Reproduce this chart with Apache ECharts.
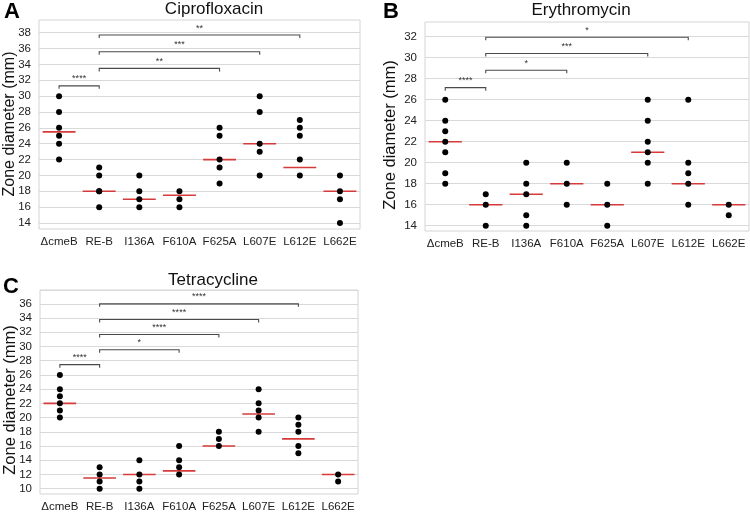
<!DOCTYPE html>
<html><head><meta charset="utf-8">
<script src="https://cdn.jsdelivr.net/npm/echarts@6/dist/echarts.min.js"></script>
<style>html,body{margin:0;padding:0;background:#fff}#c{width:750px;height:513px}</style>
</head><body><div id="c"></div>
<script>
const categories = ['ΔcmeB','RE-B','I136A','F610A','F625A','L607E','L612E','L662E'];

// Ciprofloxacin
const ciproValues = [[30,28,26,25,24,22],[21,20,18,18,16],[20,18,17,16],[18,17,16],[26,25,22,21,19],[30,28,24,23,20],[27,26,25,22,20],[20,18,17,14]];
const ciproMedians = [25.5,18,17,17.5,22,24,21,18];
const ciproBrackets = [[0,1,31.3],[1,4,33.5],[1,5,35.6],[1,6,37.7]];
const ciproStars = ['****','**','***','**'];
const ciproTicks = [14,16,18,20,22,24,26,28,30,32,34,36,38];

// Erythromycin
const eryValues = [[26,24,23,22,21,19,18],[17,16,14],[20,18,17,15,14],[20,18,16],[18,16,14],[26,24,22,21,20,18],[26,20,19,18,16],[16,15]];
const eryMedians = [22,16,17,18,16,21,18,16];
const eryBrackets = [[0,1,27.15],[1,3,28.8],[1,5,30.4],[1,6,31.95]];
const eryStars = ['****','*','***','*'];
const eryTicks = [14,16,18,20,22,24,26,28,30,32];

// Tetracycline
const tetValues = [[26,24,23,22,21,20],[13,12,11,10],[14,12,11,10],[16,14,13,12],[18,17,16],[24,22,21,20,18],[20,19,18,16,15],[12,11]];
const tetMedians = [22,11.5,12,12.5,16,20.5,17,12];
const tetBrackets = [[0,1,27.45],[1,3,29.55],[1,4,31.7],[1,5,33.8],[1,6,36.0]];
const tetStars = ['****','*','****','****','****'];
const tetTicks = [10,12,14,16,18,20,22,24,26,28,30,32,34,36];

const panels = [
  {values: ciproValues, medians: ciproMedians, brackets: ciproBrackets, stars: ciproStars, ticks: ciproTicks,
   grid: {left: 39, top: 20, width: 321, height: 209}, min: 13.25, max: 39.6, step: 0.25},
  {values: eryValues, medians: eryMedians, brackets: eryBrackets, stars: eryStars, ticks: eryTicks,
   grid: {left: 425, top: 22, width: 324, height: 209}, min: 13.5, max: 33.4, step: 0.5},
  {values: tetValues, medians: tetMedians, brackets: tetBrackets, stars: tetStars, ticks: tetTicks,
   grid: {left: 40, top: 290, width: 318, height: 207}, min: 9.25, max: 37.95, step: 0.25}
];

const F = 'Liberation Sans, Arial, sans-serif';
const grids = [], xAxes = [], yAxes = [], series = [];
panels.forEach((p, gi) => {
  grids.push(Object.assign({show: true, borderColor: '#d4d4d4', borderWidth: 1, backgroundColor: '#fff'}, p.grid));
  xAxes.push({type: 'category', gridIndex: gi, data: categories, boundaryGap: true,
    axisLine: {show: false}, axisTick: {show: false}, splitLine: {show: false},
    axisLabel: {fontSize: 11.5, color: '#222', margin: 7, fontFamily: F, interval: 0}});
  const n = Math.round(2 / p.step);
  const colors = [];
  for (let k = 0; k < n; k++) {
    const v = p.min + k * p.step;
    colors.push(Math.abs(v / 2 - Math.round(v / 2)) < 1e-6 ? '#d9d9d9' : 'rgba(0,0,0,0)');
  }
  yAxes.push({type: 'value', gridIndex: gi, min: p.min, max: p.max, interval: p.step,
    axisLine: {show: false}, axisTick: {show: false},
    splitLine: {show: true, lineStyle: {color: colors, width: 1}},
    axisLabel: {fontSize: 11.5, color: '#222', margin: 8, fontFamily: F,
      showMinLabel: true, showMaxLabel: true,
      formatter: (v) => { const r = Math.round(v * 100) / 100; return p.ticks.includes(r) ? String(r) : ''; }}});
  series.push({type: 'custom', xAxisIndex: gi, yAxisIndex: gi, z: 2,
    data: p.medians.map((m, i) => [i, m]),
    renderItem: (params, api) => {
      const c = api.coord([api.value(0), api.value(1)]);
      const w = api.size([1, 0])[0] * 0.82;
      return {type: 'line', shape: {x1: c[0] - w / 2, y1: c[1], x2: c[0] + w / 2, y2: c[1]},
        style: {stroke: '#d63a3a', lineWidth: 1.6}};
    }});
  const pts = [];
  p.values.forEach((arr, i) => arr.forEach(v => pts.push([i, v])));
  series.push({type: 'scatter', xAxisIndex: gi, yAxisIndex: gi, z: 3, data: pts,
    symbol: 'circle', symbolSize: 6, itemStyle: {color: '#000', opacity: 1}, silent: true});
  series.push({type: 'custom', xAxisIndex: gi, yAxisIndex: gi, z: 4,
    data: p.brackets, encode: {x: [0, 1], y: 2},
    renderItem: (params, api) => {
      const y = api.value(2);
      const a = api.coord([api.value(0), y]);
      const b = api.coord([api.value(1), y]);
      return {type: 'group', children: [
        {type: 'polyline', shape: {points: [[a[0], a[1] + 3], [a[0], a[1]], [b[0], b[1]], [b[0], b[1] + 3]]},
          style: {stroke: '#4a4a4a', lineWidth: 1.1, fill: null}},
        {type: 'text', x: (a[0] + b[0]) / 2, y: a[1] - 7,
          style: {text: p.stars[params.dataIndex], fontSize: 9, fill: '#333', align: 'center', verticalAlign: 'middle',
            textAlign: 'center', textVerticalAlign: 'middle', fontFamily: F}}
      ]};
    }});
});

function txt(t, x, y, size, opts) {
  return Object.assign({type: 'text', x: x, y: y, style: {text: t, fontSize: size, fontFamily: F, fill: '#111',
    align: 'center', verticalAlign: 'middle', textAlign: 'center', textVerticalAlign: 'middle'}}, opts || {});
}
const graphics = [
  txt('Ciprofloxacin', 214, 9, 17),
  txt('Erythromycin', 581, 10, 17),
  txt('Tetracycline', 213, 280, 17),
  txt('Zone diameter (mm)', 10, 124, 16, {rotation: Math.PI / 2}),
  txt('Zone diameter (mm)', 390, 135, 16.5, {rotation: Math.PI / 2}),
  txt('Zone diameter (mm)', 10, 400, 16.5, {rotation: Math.PI / 2})
];
[['A', 4, 12], ['B', 383, 12], ['C', 3, 287]].forEach(([t, x, y]) => {
  graphics.push({type: 'text', x: x, y: y, style: {text: t, fontSize: 22, fontWeight: 'bold', fontFamily: F, fill: '#000',
    align: 'left', verticalAlign: 'middle', textAlign: 'left', textVerticalAlign: 'middle'}});
});

const chart = echarts.init(document.getElementById('c'), null, {renderer: 'canvas'});
chart.setOption({animation: false, backgroundColor: '#fff', grid: grids, xAxis: xAxes, yAxis: yAxes, series: series, graphic: graphics});
</script></body></html>
